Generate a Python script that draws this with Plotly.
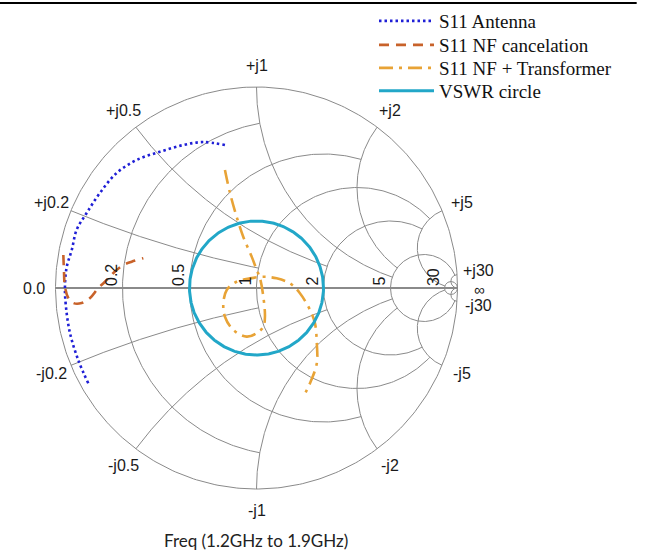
import numpy as np
import plotly.graph_objects as go

# ---------------- data: S11 (reflection coefficient) ----------------
ant_re = [-0.837, -0.887, -0.928, -0.948, -0.953, -0.944, -0.919, -0.895, -0.845,
          -0.779, -0.696, -0.596, -0.480, -0.366, -0.266, -0.157]
ant_im = [-0.474, -0.358, -0.224, -0.093, 0.006, 0.106, 0.189, 0.289, 0.373,
          0.473, 0.572, 0.637, 0.678, 0.711, 0.726, 0.711]

nf_re = [-0.961, -0.958, -0.953, -0.936, -0.911, -0.870, -0.828, -0.787, -0.754,
         -0.712, -0.663, -0.621, -0.563]
nf_im = [0.164, 0.090, 0.006, -0.050, -0.075, -0.075, -0.050, 0.000, 0.031,
         0.075, 0.114, 0.131, 0.148]

tr_re = [-0.157, -0.132, -0.099, -0.066, -0.024, 0.001, 0.017, 0.034, 0.042, 0.034,
         0.001, -0.049, -0.115, -0.157, -0.165, -0.148, -0.099, -0.032, 0.034, 0.100,
         0.167, 0.216, 0.266, 0.291, 0.300, 0.300, 0.266, 0.233]
tr_im = [0.587, 0.473, 0.355, 0.255, 0.156, 0.090, 0.050, -0.043, -0.143, -0.193,
         -0.225, -0.242, -0.209, -0.143, -0.076, -0.010, 0.031, 0.048, 0.056, 0.048,
         0.023, -0.026, -0.109, -0.176, -0.275, -0.375, -0.474, -0.541]

vswr = 2.0

# Smith grid values and the limit each line is drawn to
grid_values = [0.2, 0.5, 1.0, 2.0, 5.0, 30.0]
grid_limits = [1.0, 2.0, 5.0, 5.0, 30.0, np.inf]
real_tick_text = ["0.2", "0.5", "1", "2", "5", "30"]
imag_tick_values = [0.2, 0.5, 1.0, 2.0, 5.0, 30.0]
imag_tick_pos = ["+j0.2", "+j0.5", "+j1", "+j2", "+j5", "+j30"]
imag_tick_neg = ["-j0.2", "-j0.5", "-j1", "-j2", "-j5", "-j30"]

legend_names = ["S11 Antenna", "S11 NF cancelation", "S11 NF + Transformer", "VSWR circle"]


def gamma(z):
    if np.isinf(z.real):
        return 1 + 0j
    return (z - 1) / (z + 1)


# ---------------- grid geometry ----------------
gx, gy = [], []


def add_arc(c, R, a0, a1, conj=False, n=240):
    t = np.linspace(a0, a1, n)
    p = c + R * np.exp(1j * t)
    if conj:
        p = np.conj(p)
    gx.extend(list(p.real) + [None])
    gy.extend(list(p.imag) + [None])


# outer circle (r = 0)
add_arc(0j, 1.0, 0, 2 * np.pi, n=400)

for v, L in zip(grid_values, grid_limits):
    # resistance circle r = v, drawn for |x| <= L
    c = v / (1 + v)
    R = 1 / (1 + v)
    pt = gamma(complex(v, L)) if np.isfinite(L) else 1 + 0j
    a_top = np.angle(pt - c)
    add_arc(c, R, a_top, 2 * np.pi - a_top)
    # reactance arcs x = +/- v, drawn for 0 <= r <= L
    c = 1 + 1j / v
    R = 1 / v
    a0 = np.mod(np.angle(gamma(complex(0, v)) - c), 2 * np.pi)
    if np.isfinite(L):
        a1 = np.mod(np.angle(gamma(complex(L, v)) - c), 2 * np.pi)
    else:
        a1 = 1.5 * np.pi
    add_arc(c, R, a0, a1)
    add_arc(c, R, a0, a1, conj=True)

fig = go.Figure()

GRID = "#8a8a8a"
fig.add_trace(go.Scatter(x=gx, y=gy, mode="lines", line=dict(color=GRID, width=1),
                         hoverinfo="skip", showlegend=False))
fig.add_trace(go.Scatter(x=[-1, 1], y=[0, 0], mode="lines", line=dict(color=GRID, width=1.8),
                         hoverinfo="skip", showlegend=False))

# ---------------- data traces ----------------
fig.add_trace(go.Scatter(x=ant_re, y=ant_im, mode="lines", name=legend_names[0], legend="legend",
                         line=dict(color="#1f1fd6", width=2.6, dash="2.5px,3px", shape="spline")))
fig.add_trace(go.Scatter(x=nf_re, y=nf_im, mode="lines", name=legend_names[1], legend="legend2",
                         line=dict(color="#c8622a", width=2.6, dash="10px,7px", shape="spline")))
fig.add_trace(go.Scatter(x=tr_re, y=tr_im, mode="lines", name=legend_names[2], legend="legend3",
                         line=dict(color="#e8a336", width=2.6, dash="14px,6px,3px,6px", shape="spline")))

rho = (vswr - 1) / (vswr + 1)
th = np.linspace(0, 2 * np.pi, 361)
fig.add_trace(go.Scatter(x=rho * np.cos(th), y=rho * np.sin(th), mode="lines", name=legend_names[3],
                         legend="legend4", line=dict(color="#22a7c8", width=3)))

# ---------------- labels ----------------
LABEL_FONT = dict(family="Liberation Sans, Arial, sans-serif", size=16, color="#1a1a1a")
ann = []
LR = 1.105
for v, tp, tn in zip(imag_tick_values, imag_tick_pos, imag_tick_neg):
    g = gamma(complex(0, v))
    dy = 3 if v >= 30 else 0
    ann.append(dict(x=LR * g.real, y=LR * g.imag, text=tp, showarrow=False, font=LABEL_FONT,
                    xanchor="center", yanchor="middle", yshift=dy))
    ann.append(dict(x=LR * g.real, y=-LR * g.imag, text=tn, showarrow=False, font=LABEL_FONT,
                    xanchor="center", yanchor="middle", yshift=-dy))
ann.append(dict(x=-LR, y=0, text="0.0", showarrow=False, font=LABEL_FONT,
                xanchor="center", yanchor="middle"))
ann.append(dict(x=LR * 1.005, y=0, text="∞", showarrow=False, font=dict(LABEL_FONT, size=15),
                xanchor="center", yanchor="middle", yshift=-1))
for v, t in zip(grid_values, real_tick_text):
    g = gamma(complex(v, 0))
    ann.append(dict(x=g.real, y=0, text=t, showarrow=False, font=LABEL_FONT, textangle=-90,
                    xanchor="right", yanchor="bottom", xshift=-1, yshift=0))

ann.append(dict(x=0.394, y=0.032, xref="paper", yref="paper", text="Freq (1.2GHz to 1.9GHz)",
                showarrow=False, font=dict(family="Lato, Carlito, sans-serif", size=17, color="#222"),
                xanchor="center", yanchor="middle"))

W, H = 651, 558
cx, cy, RP = 256.5, 288.0, 201.0
x0 = -cx / RP
x1 = x0 + W / RP
y1 = cy / RP
y0 = y1 - H / RP

LEG_FONT = dict(family="Liberation Serif, Times New Roman, serif", size=19, color="#111")
legend_rows = [21, 45, 68, 91]


def leg(ypix):
    return dict(x=0.5745, y=1 - ypix / H, xanchor="left", yanchor="middle", font=LEG_FONT,
                bgcolor="rgba(0,0,0,0)", itemwidth=55)


fig.update_layout(
    width=W, height=H,
    margin=dict(l=0, r=0, t=0, b=0),
    paper_bgcolor="white", plot_bgcolor="white",
    xaxis=dict(range=[x0, x1], visible=False, fixedrange=True),
    yaxis=dict(range=[y0, y1], visible=False, fixedrange=True),
    annotations=ann,
    showlegend=True,
    legend=leg(legend_rows[0]),
    legend2=leg(legend_rows[1]),
    legend3=leg(legend_rows[2]),
    legend4=leg(legend_rows[3]),
    shapes=[dict(type="line", xref="paper", yref="paper", x0=0, x1=0.978,
                 y0=1 - 3 / H, y1=1 - 3 / H, layer="above", line=dict(color="black", width=2))],
)

fig.write_html("out.html", config={"displayModeBar": False},
               post_script="document.body.style.margin='0px';")
